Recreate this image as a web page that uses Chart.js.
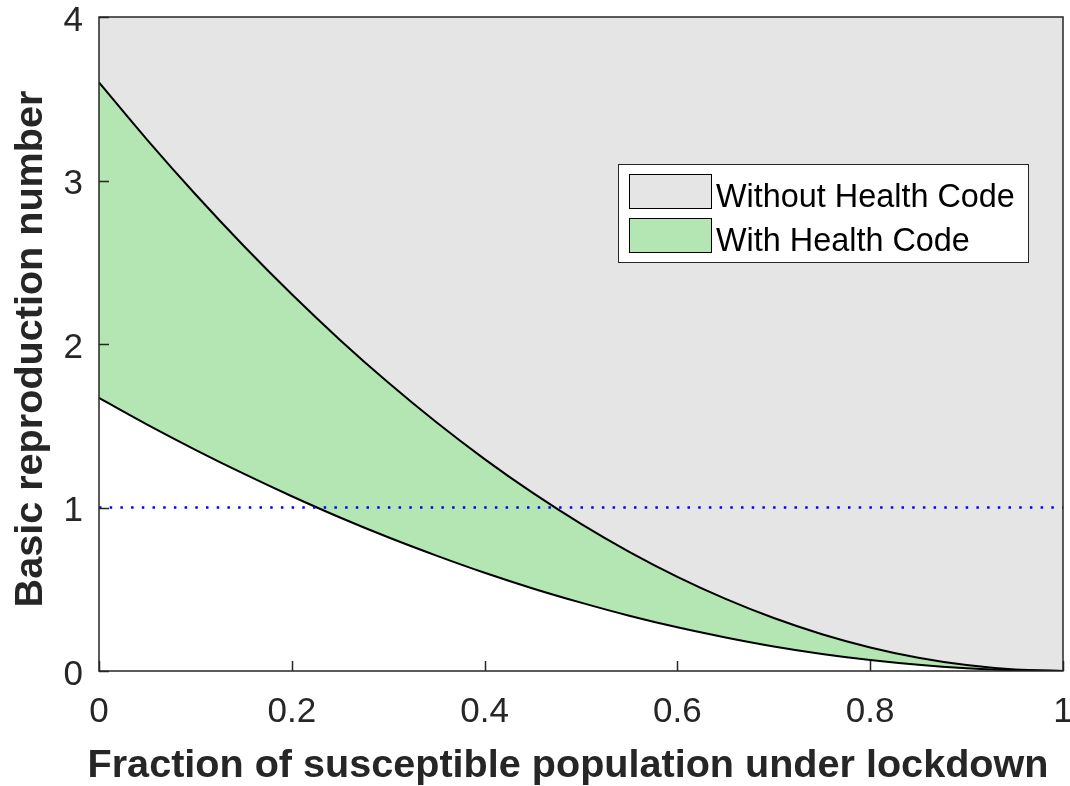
<!DOCTYPE html>
<html>
<head>
<meta charset="utf-8">
<script src="https://cdn.jsdelivr.net/npm/chart.js@4/dist/chart.umd.min.js"></script>
<style>
  html, body { margin: 0; padding: 0; background: #ffffff; }
  canvas { display: block; }
</style>
</head>
<body>
<canvas id="chart" width="1070" height="786"></canvas>
<script>
// Fraction of the susceptible population placed under lockdown
const lockdownFraction = [0, 0.05, 0.10, 0.15, 0.20, 0.25, 0.30, 0.35, 0.40, 0.45, 0.50,
                          0.55, 0.60, 0.65, 0.70, 0.75, 0.80, 0.85, 0.90, 0.95, 1.00];

// Basic reproduction number without the Health Code system
const r0Without = [3.600, 3.249, 2.916, 2.601, 2.304, 2.025, 1.764, 1.521, 1.296, 1.089, 0.900,
                   0.729, 0.576, 0.441, 0.324, 0.225, 0.144, 0.081, 0.036, 0.009, 0.000];

// Basic reproduction number with the Health Code system
const r0With = [1.670, 1.507, 1.353, 1.207, 1.069, 0.939, 0.818, 0.706, 0.601, 0.505, 0.418,
                0.338, 0.267, 0.205, 0.150, 0.104, 0.067, 0.038, 0.017, 0.004, 0.000];

// Epidemic threshold
const thresholdX = [0, 1];
const thresholdY = [1, 1];

const xTicks = [0, 0.2, 0.4, 0.6, 0.8, 1];
const xTickLabels = ['0', '0.2', '0.4', '0.6', '0.8', '1'];
const yTicks = [0, 1, 2, 3, 4];
const yTickLabels = ['0', '1', '2', '3', '4'];

const seriesNames = ['Without Health Code', 'With Health Code'];
const xTitle = 'Fraction of susceptible population under lockdown';
const yTitle = 'Basic reproduction number';

const FONT = '"Liberation Sans", Arial, Helvetica, sans-serif';
const AXIS_COLOR = '#262626';
const GRAY = '#e5e5e5';
const GREEN = '#b3e6b3';

const toPoints = (xs, ys) => xs.map((x, i) => ({ x: x, y: ys[i] }));

// Inward tick marks, axes box, axis titles and the legend
const frameAndLegend = {
  id: 'frameAndLegend',
  afterDatasetsDraw(chart) {
    const ctx = chart.ctx;
    const area = chart.chartArea;
    const xs = chart.scales.x;
    const ys = chart.scales.y;
    ctx.save();
    ctx.strokeStyle = AXIS_COLOR;
    ctx.lineWidth = 1.5;
    // ticks
    ctx.beginPath();
    xTicks.forEach(v => {
      const px = Math.round(xs.getPixelForValue(v)) + 0.5;
      ctx.moveTo(px, area.bottom);
      ctx.lineTo(px, area.bottom - 10);
    });
    yTicks.forEach(v => {
      const py = Math.round(ys.getPixelForValue(v)) + 0.5;
      ctx.moveTo(area.left, py);
      ctx.lineTo(area.left + 10, py);
    });
    ctx.stroke();
    // box
    ctx.strokeRect(area.left, area.top, area.right - area.left, area.bottom - area.top);

    // axis titles
    ctx.fillStyle = AXIS_COLOR;
    ctx.font = 'bold 39.6px ' + FONT;
    ctx.textAlign = 'center';
    ctx.textBaseline = 'alphabetic';
    ctx.fillText(xTitle, (area.left + area.right) / 2 - 13, 777);
    ctx.save();
    ctx.translate(42, (area.top + area.bottom) / 2 + 5);
    ctx.rotate(-Math.PI / 2);
    ctx.fillText(yTitle, 0, 0);
    ctx.restore();

    // legend
    const lx = 618, ly = 164, lw = 410, lh = 98;
    ctx.fillStyle = '#ffffff';
    ctx.fillRect(lx, ly, lw, lh);
    ctx.lineWidth = 1;
    ctx.strokeStyle = '#262626';
    ctx.strokeRect(lx + 0.5, ly + 0.5, lw, lh);
    const fills = [GRAY, GREEN];
    ctx.font = '32.4px ' + FONT;
    ctx.textBaseline = 'alphabetic';
    ctx.textAlign = 'left';
    seriesNames.forEach((name, i) => {
      const sy = ly + 10 + i * 44;
      ctx.fillStyle = fills[i];
      ctx.fillRect(629, sy, 82, 34);
      ctx.strokeStyle = '#000000';
      ctx.strokeRect(629.5, sy + 0.5, 82, 34);
      ctx.fillStyle = '#000000';
      ctx.fillText(name, 716, sy + 33);
    });
    ctx.restore();
  }
};

new Chart(document.getElementById('chart'), {
  type: 'line',
  data: {
    datasets: [
      {
        label: seriesNames[0],
        data: toPoints(lockdownFraction, r0Without),
        borderColor: '#000000',
        borderWidth: 2,
        backgroundColor: GRAY,
        fill: 'end',
        pointRadius: 0,
        cubicInterpolationMode: 'monotone'
      },
      {
        label: seriesNames[1],
        data: toPoints(lockdownFraction, r0With),
        borderColor: '#000000',
        borderWidth: 2,
        backgroundColor: GREEN,
        fill: '-1',
        pointRadius: 0,
        cubicInterpolationMode: 'monotone'
      },
      {
        label: 'threshold',
        data: toPoints(thresholdX, thresholdY),
        borderColor: '#0000ff',
        borderWidth: 2.5,
        borderDash: [2.5, 8.2],
        fill: false,
        pointRadius: 0,
        order: -1
      }
    ]
  },
  options: {
    responsive: false,
    animation: false,
    devicePixelRatio: 1,
    layout: { padding: { top: 17, right: 7, left: 0, bottom: 0 } },
    plugins: {
      legend: { display: false },
      tooltip: { enabled: false },
      filler: { drawTime: 'beforeDatasetsDraw' }
    },
    scales: {
      x: {
        type: 'linear',
        min: 0,
        max: 1,
        afterBuildTicks: s => { s.ticks = xTicks.map(v => ({ value: v })); },
        afterFit: s => { s.height = 115; s.paddingLeft = 0; s.paddingRight = 0; },
        grid: { display: false, drawTicks: false },
        border: { display: false },
        ticks: {
          callback: (v) => xTickLabels[xTicks.indexOf(v)],
          font: { family: FONT, size: 35 },
          color: AXIS_COLOR,
          padding: 20,
          maxRotation: 0,
          autoSkip: false
        },
        title: { display: false }
      },
      y: {
        type: 'linear',
        min: 0,
        max: 4,
        afterBuildTicks: s => { s.ticks = yTicks.map(v => ({ value: v })); },
        afterFit: s => { s.width = 99; s.paddingTop = 0; s.paddingBottom = 0; },
        grid: { display: false, drawTicks: false },
        border: { display: false },
        ticks: {
          callback: (v) => yTickLabels[yTicks.indexOf(v)],
          font: { family: FONT, size: 35 },
          color: AXIS_COLOR,
          padding: 16,
          labelOffset: 4,
          autoSkip: false
        },
        title: { display: false }
      }
    }
  },
  plugins: [frameAndLegend]
});
</script>
</body>
</html>
